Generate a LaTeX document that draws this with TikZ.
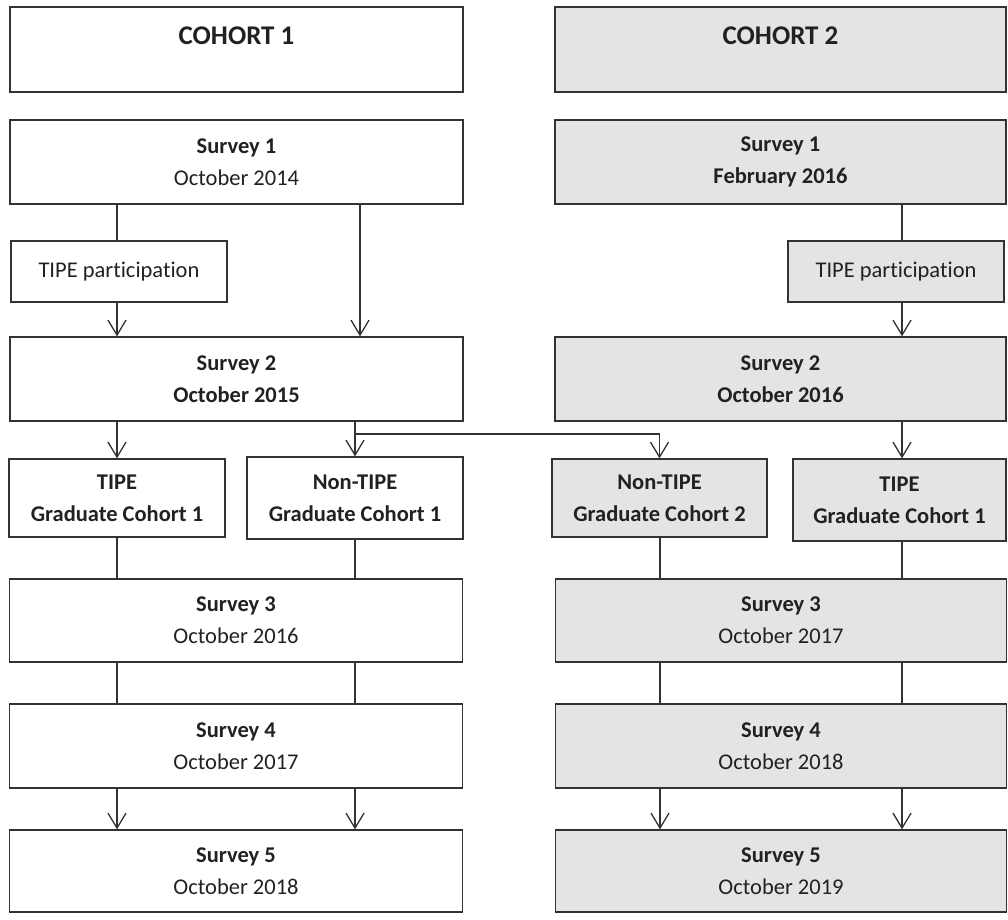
\documentclass[tikz,border=0pt]{standalone}
\usepackage{fontspec}
\setmainfont{Carlito}[Ligatures={NoCommon}]
\usetikzlibrary{arrows.meta}
\definecolor{boxgray}{RGB}{227,228,228}
\definecolor{linec}{RGB}{50,50,50}
\definecolor{textc}{RGB}{33,33,33}
\begin{document}
\begin{tikzpicture}[x=1pt,y=-1pt,
  box/.style={draw=linec, line width=1.3pt, rectangle, inner sep=0pt, align=center,
    text=textc, font=\fontsize{22.5}{32}\selectfont},
  wide/.style={box, minimum width=453pt, minimum height=84pt},
  widegray/.style={wide, fill=boxgray, minimum width=451pt},
  small/.style={box, minimum width=216pt},
  grad/.style={small, font=\fontsize{22.5}{32}\selectfont\bfseries},
  hdrtxt/.style={text=textc, font=\fontsize{27}{32}\selectfont\bfseries, inner sep=0pt},
  conn/.style={draw=linec, line width=1.3pt},
  arr/.style={conn, -{Straight Barb[length=15pt,width=18pt,line width=1.3pt]}}
]
\useasboundingbox (0,0) rectangle (1008,919);
% column x positions
\coordinate (cA) at (117,0);
\coordinate (cB) at (360,0);
\coordinate (cC) at (660,0);
\coordinate (cD) at (902,0);

% headers
\node[wide, minimum height=85pt] (c1) at (236.5,49.5) {};
\node[hdrtxt] (c1t) at ([yshift=-29pt]c1.north) {COHORT 1};
\node[widegray, minimum height=85pt] (c2) at (780.5,49.5) {};
\node[hdrtxt] (c2t) at ([yshift=-29pt]c2.north) {COHORT 2};

% survey 1
\node[wide] (s1L) at (236.5,162) {\textbf{Survey 1}\\October 2014};
\node[widegray] (s1R) at (780.5,162) {\textbf{Survey 1}\\\textbf{February 2016}};

% TIPE participation
\node[small, minimum height=61pt] (tL) at (119,271.5) {TIPE participation};
\node[small, minimum height=61pt, fill=boxgray] (tR) at (896,271.5) {TIPE participation};

% survey 2
\node[wide] (s2L) at (236.5,379) {\textbf{Survey 2}\\\textbf{October 2015}};
\node[widegray] (s2R) at (780.5,379) {\textbf{Survey 2}\\\textbf{October 2016}};

% graduate groups
\node[grad, minimum height=78pt] (g1) at (117,498) {TIPE\\Graduate Cohort 1};
\node[grad, minimum height=82pt] (g2) at (355,498) {Non-TIPE\\Graduate Cohort 1};
\node[grad, minimum width=215pt, minimum height=78pt, fill=boxgray] (g3) at (659.5,498) {Non-TIPE\\Graduate Cohort 2};
\node[grad, minimum width=213pt, minimum height=82pt, fill=boxgray] (g4) at (899.5,500) {TIPE\\Graduate Cohort 1};

% survey 3-5
\node[wide, minimum height=83pt] (s3L) at (236,620.5) {\textbf{Survey 3}\\October 2016};
\node[widegray, minimum height=83pt] (s3R) at (781,620.5) {\textbf{Survey 3}\\October 2017};
\node[wide] (s4L) at (236,746) {\textbf{Survey 4}\\October 2017};
\node[widegray] (s4R) at (781,746) {\textbf{Survey 4}\\October 2018};
\node[wide, minimum height=82pt] (s5L) at (236,871) {\textbf{Survey 5}\\October 2018};
\node[widegray, minimum height=82pt] (s5R) at (781,871) {\textbf{Survey 5}\\October 2019};

% connectors cohort 1
\draw[conn] (s1L.south -| cA) -- (tL.north -| cA);
\draw[arr] (tL.south -| cA) -- (s2L.north -| cA);
\draw[arr] (s1L.south -| cB) -- (s2L.north -| cB);
\draw[arr] (s2L.south -| cA) -- (g1.north -| cA);
\draw[arr] (s2L.south -| g2.north) -- (g2.north);
\coordinate (br) at (355,434);
\draw[arr] (br) -| (g3.north);
\draw[conn] (g1.south) -- (s3L.north -| g1.south);
\draw[conn] (g2.south) -- (s3L.north -| g2.south);
\draw[conn] (s3L.south -| cA) -- (s4L.north -| cA);
\draw[conn] (s3L.south -| g2.south) -- (s4L.north -| g2.south);
\draw[arr] (s4L.south -| cA) -- (s5L.north -| cA);
\draw[arr] (s4L.south -| g2.south) -- (s5L.north -| g2.south);

% connectors cohort 2
\draw[conn] (s1R.south -| cD) -- (tR.north -| cD);
\draw[arr] (tR.south -| cD) -- (s2R.north -| cD);
\draw[arr] (s2R.south -| cD) -- (g4.north -| cD);
\draw[conn] (g3.south -| cC) -- (s3R.north -| cC);
\draw[conn] (g4.south -| cD) -- (s3R.north -| cD);
\draw[conn] (s3R.south -| cC) -- (s4R.north -| cC);
\draw[conn] (s3R.south -| cD) -- (s4R.north -| cD);
\draw[arr] (s4R.south -| cC) -- (s5R.north -| cC);
\draw[arr] (s4R.south -| cD) -- (s5R.north -| cD);
\end{tikzpicture}
\end{document}
